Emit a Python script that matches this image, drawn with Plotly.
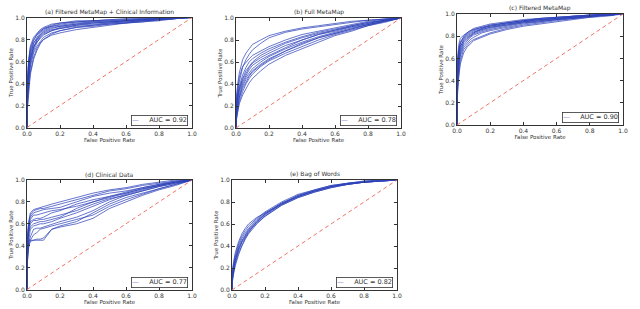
import plotly.graph_objects as go

# ---------------- data ----------------
FPR_GRID = [0, 0.01, 0.02, 0.04, 0.06, 0.08, 0.1, 0.15, 0.2, 0.3, 0.4, 0.5, 0.6, 0.7, 0.8, 0.9, 1.0]
DIAG = [0.0, 1.0]
TICKS = [0.0, 0.2, 0.4, 0.6, 0.8, 1.0]
TICK_LABELS = ["0.0", "0.2", "0.4", "0.6", "0.8", "1.0"]

TITLES = ["(a) Filtered MetaMap + Clinical Information", "(b) Full MetaMap",
          "(c) Filtered MetaMap", "(d) Clinical Data", "(e) Bag of Words"]
AUCS = ["0.92", "0.78", "0.90", "0.77", "0.82"]

TPR_A = [
    [0.25, 0.45, 0.60, 0.72, 0.80, 0.84, 0.87, 0.90, 0.92, 0.94, 0.95, 0.96, 0.97, 0.98, 0.99, 1.0, 1.0],
    [0.20, 0.40, 0.55, 0.68, 0.74, 0.78, 0.82, 0.86, 0.88, 0.91, 0.93, 0.95, 0.96, 0.97, 0.98, 0.99, 1.0],
    [0.30, 0.55, 0.66, 0.76, 0.82, 0.86, 0.89, 0.92, 0.94, 0.96, 0.97, 0.97, 0.98, 0.98, 0.99, 1.0, 1.0],
    [0.15, 0.35, 0.50, 0.64, 0.72, 0.77, 0.80, 0.84, 0.86, 0.89, 0.91, 0.93, 0.95, 0.96, 0.98, 0.99, 1.0],
    [0.35, 0.58, 0.70, 0.79, 0.84, 0.87, 0.90, 0.93, 0.95, 0.96, 0.97, 0.98, 0.98, 0.99, 0.99, 1.0, 1.0],
    [0.22, 0.48, 0.62, 0.74, 0.78, 0.81, 0.84, 0.88, 0.90, 0.93, 0.94, 0.95, 0.96, 0.97, 0.98, 0.99, 1.0],
    [0.40, 0.62, 0.72, 0.80, 0.85, 0.88, 0.90, 0.92, 0.93, 0.95, 0.96, 0.96, 0.97, 0.98, 0.99, 1.0, 1.0],
    [0.18, 0.42, 0.58, 0.70, 0.77, 0.82, 0.85, 0.88, 0.91, 0.93, 0.95, 0.96, 0.97, 0.98, 0.99, 1.0, 1.0],
    [0.28, 0.50, 0.64, 0.73, 0.79, 0.83, 0.86, 0.89, 0.90, 0.92, 0.93, 0.94, 0.95, 0.97, 0.98, 0.99, 1.0],
    [0.32, 0.60, 0.74, 0.82, 0.86, 0.89, 0.91, 0.94, 0.95, 0.97, 0.97, 0.98, 0.99, 0.99, 1.0, 1.0, 1.0],
    [0.12, 0.30, 0.48, 0.62, 0.70, 0.76, 0.80, 0.85, 0.88, 0.91, 0.92, 0.94, 0.95, 0.96, 0.97, 0.99, 1.0],
    [0.26, 0.52, 0.68, 0.77, 0.81, 0.85, 0.88, 0.91, 0.92, 0.94, 0.96, 0.97, 0.97, 0.98, 0.99, 1.0, 1.0],
]

TPR_B = [
    [0.10, 0.22, 0.30, 0.40, 0.46, 0.50, 0.54, 0.60, 0.65, 0.72, 0.78, 0.83, 0.87, 0.91, 0.94, 0.97, 1.0],
    [0.15, 0.28, 0.36, 0.45, 0.52, 0.56, 0.60, 0.66, 0.70, 0.77, 0.82, 0.86, 0.89, 0.92, 0.95, 0.98, 1.0],
    [0.05, 0.15, 0.24, 0.33, 0.40, 0.45, 0.49, 0.56, 0.61, 0.68, 0.74, 0.80, 0.85, 0.89, 0.93, 0.97, 1.0],
    [0.20, 0.32, 0.42, 0.55, 0.62, 0.67, 0.71, 0.77, 0.82, 0.87, 0.90, 0.92, 0.94, 0.96, 0.98, 0.99, 1.0],
    [0.12, 0.25, 0.33, 0.42, 0.48, 0.53, 0.57, 0.62, 0.66, 0.73, 0.80, 0.85, 0.88, 0.92, 0.95, 0.98, 1.0],
    [0.08, 0.18, 0.28, 0.38, 0.44, 0.48, 0.52, 0.58, 0.63, 0.70, 0.76, 0.82, 0.86, 0.90, 0.94, 0.97, 1.0],
    [0.18, 0.30, 0.38, 0.48, 0.55, 0.60, 0.63, 0.68, 0.72, 0.78, 0.83, 0.87, 0.90, 0.93, 0.96, 0.98, 1.0],
    [0.06, 0.14, 0.22, 0.30, 0.36, 0.41, 0.45, 0.52, 0.58, 0.66, 0.72, 0.78, 0.84, 0.88, 0.93, 0.96, 1.0],
    [0.14, 0.26, 0.35, 0.44, 0.50, 0.55, 0.59, 0.64, 0.68, 0.75, 0.80, 0.85, 0.89, 0.93, 0.96, 0.98, 1.0],
    [0.22, 0.36, 0.46, 0.56, 0.60, 0.63, 0.66, 0.70, 0.74, 0.80, 0.85, 0.88, 0.91, 0.94, 0.97, 0.99, 1.0],
    [0.09, 0.20, 0.27, 0.36, 0.42, 0.47, 0.51, 0.57, 0.62, 0.70, 0.77, 0.82, 0.86, 0.90, 0.94, 0.97, 1.0],
    [0.25, 0.40, 0.50, 0.62, 0.68, 0.72, 0.76, 0.80, 0.84, 0.88, 0.91, 0.93, 0.95, 0.97, 0.98, 0.99, 1.0],
]

TPR_C = [
    [0.40, 0.60, 0.70, 0.77, 0.80, 0.82, 0.84, 0.86, 0.88, 0.91, 0.93, 0.95, 0.96, 0.97, 0.98, 0.99, 1.0],
    [0.30, 0.52, 0.64, 0.72, 0.76, 0.79, 0.81, 0.84, 0.86, 0.89, 0.92, 0.94, 0.95, 0.97, 0.98, 0.99, 1.0],
    [0.50, 0.68, 0.75, 0.79, 0.82, 0.84, 0.86, 0.88, 0.89, 0.92, 0.94, 0.96, 0.97, 0.98, 0.99, 1.0, 1.0],
    [0.25, 0.45, 0.58, 0.68, 0.72, 0.75, 0.77, 0.80, 0.83, 0.87, 0.90, 0.92, 0.94, 0.96, 0.97, 0.99, 1.0],
    [0.45, 0.65, 0.74, 0.78, 0.81, 0.83, 0.85, 0.87, 0.90, 0.92, 0.94, 0.95, 0.96, 0.97, 0.98, 0.99, 1.0],
    [0.35, 0.58, 0.68, 0.75, 0.78, 0.80, 0.82, 0.85, 0.87, 0.90, 0.93, 0.94, 0.96, 0.97, 0.98, 0.99, 1.0],
    [0.55, 0.72, 0.78, 0.81, 0.83, 0.85, 0.87, 0.89, 0.91, 0.93, 0.95, 0.96, 0.97, 0.98, 0.99, 1.0, 1.0],
    [0.20, 0.42, 0.55, 0.65, 0.70, 0.73, 0.76, 0.79, 0.82, 0.86, 0.89, 0.91, 0.93, 0.95, 0.97, 0.98, 1.0],
    [0.38, 0.56, 0.66, 0.74, 0.77, 0.80, 0.83, 0.86, 0.88, 0.90, 0.92, 0.93, 0.95, 0.96, 0.98, 0.99, 1.0],
    [0.48, 0.66, 0.73, 0.80, 0.83, 0.85, 0.86, 0.88, 0.90, 0.92, 0.94, 0.96, 0.97, 0.98, 0.99, 0.99, 1.0],
    [0.28, 0.50, 0.62, 0.70, 0.74, 0.77, 0.79, 0.83, 0.85, 0.88, 0.91, 0.93, 0.95, 0.96, 0.98, 0.99, 1.0],
    [0.42, 0.62, 0.71, 0.76, 0.79, 0.81, 0.83, 0.87, 0.89, 0.91, 0.93, 0.95, 0.96, 0.98, 0.99, 1.0, 1.0],
]

TPR_D = [
    [0.30, 0.45, 0.45, 0.45, 0.45, 0.45, 0.45, 0.55, 0.58, 0.62, 0.70, 0.78, 0.84, 0.88, 0.92, 0.96, 1.0],
    [0.35, 0.55, 0.62, 0.64, 0.65, 0.65, 0.66, 0.70, 0.72, 0.78, 0.82, 0.85, 0.88, 0.92, 0.95, 0.98, 1.0],
    [0.40, 0.58, 0.66, 0.70, 0.71, 0.72, 0.73, 0.74, 0.75, 0.80, 0.85, 0.88, 0.90, 0.93, 0.96, 0.98, 1.0],
    [0.25, 0.42, 0.48, 0.55, 0.56, 0.56, 0.57, 0.60, 0.62, 0.66, 0.72, 0.80, 0.86, 0.90, 0.94, 0.97, 1.0],
    [0.45, 0.62, 0.68, 0.72, 0.73, 0.74, 0.74, 0.76, 0.78, 0.82, 0.86, 0.90, 0.92, 0.95, 0.97, 0.99, 1.0],
    [0.20, 0.38, 0.45, 0.50, 0.52, 0.55, 0.56, 0.58, 0.60, 0.64, 0.68, 0.76, 0.82, 0.87, 0.92, 0.96, 1.0],
    [0.32, 0.50, 0.60, 0.63, 0.63, 0.64, 0.64, 0.66, 0.68, 0.72, 0.78, 0.83, 0.86, 0.90, 0.94, 0.97, 1.0],
    [0.38, 0.55, 0.64, 0.68, 0.68, 0.69, 0.70, 0.72, 0.73, 0.76, 0.80, 0.85, 0.89, 0.93, 0.96, 0.99, 1.0],
    [0.28, 0.44, 0.55, 0.58, 0.59, 0.60, 0.60, 0.62, 0.65, 0.70, 0.76, 0.82, 0.87, 0.91, 0.95, 0.98, 1.0],
    [0.42, 0.60, 0.70, 0.73, 0.74, 0.75, 0.76, 0.78, 0.80, 0.84, 0.88, 0.91, 0.93, 0.96, 0.98, 1.0, 1.0],
    [0.22, 0.40, 0.44, 0.45, 0.46, 0.46, 0.47, 0.55, 0.57, 0.60, 0.65, 0.74, 0.80, 0.86, 0.91, 0.95, 1.0],
    [0.34, 0.52, 0.57, 0.60, 0.61, 0.62, 0.62, 0.64, 0.66, 0.74, 0.80, 0.84, 0.88, 0.92, 0.95, 0.98, 1.0],
]

TPR_E = [
    [0.08, 0.18, 0.26, 0.36, 0.43, 0.48, 0.53, 0.61, 0.67, 0.77, 0.84, 0.89, 0.93, 0.96, 0.98, 0.99, 1.0],
    [0.12, 0.22, 0.30, 0.40, 0.47, 0.52, 0.56, 0.64, 0.70, 0.79, 0.85, 0.90, 0.94, 0.97, 0.98, 0.99, 1.0],
    [0.05, 0.15, 0.22, 0.32, 0.40, 0.46, 0.51, 0.60, 0.67, 0.77, 0.84, 0.89, 0.93, 0.96, 0.98, 0.99, 1.0],
    [0.15, 0.26, 0.34, 0.44, 0.51, 0.56, 0.60, 0.66, 0.70, 0.78, 0.85, 0.90, 0.94, 0.96, 0.98, 1.0, 1.0],
    [0.10, 0.20, 0.28, 0.38, 0.45, 0.50, 0.55, 0.63, 0.69, 0.78, 0.86, 0.91, 0.95, 0.97, 0.99, 1.0, 1.0],
    [0.07, 0.16, 0.24, 0.34, 0.41, 0.47, 0.52, 0.62, 0.69, 0.79, 0.86, 0.90, 0.94, 0.97, 0.98, 0.99, 1.0],
    [0.13, 0.24, 0.32, 0.42, 0.49, 0.54, 0.58, 0.65, 0.71, 0.80, 0.87, 0.91, 0.95, 0.97, 0.99, 1.0, 1.0],
    [0.09, 0.19, 0.27, 0.37, 0.44, 0.49, 0.54, 0.62, 0.68, 0.78, 0.85, 0.90, 0.94, 0.96, 0.98, 0.99, 1.0],
]

PANELS = [TPR_A, TPR_B, TPR_C, TPR_D, TPR_E]

# ---------------- layout / style ----------------
W, H = 640, 309
# pixel boxes (left, right, top, bottom) of each axes frame
BOXES = [(27, 192, 17.5, 127.5), (236, 401, 18, 128), (457, 623, 14, 125),
         (27, 192, 180, 289.5), (232, 397, 180, 290)]

LINE_COL = "rgba(45,65,185,0.72)"
DIAG_COL = "rgba(238,110,95,0.95)"
FONT = "DejaVu Sans"

fig = go.Figure()
annotations = []
layout_axes = {}

for i, (curves, box) in enumerate(zip(PANELS, BOXES)):
    k = "" if i == 0 else str(i + 1)
    xa, ya = "x" + k, "y" + k
    for c in curves:
        fig.add_trace(go.Scatter(
            x=[0] + FPR_GRID, y=[0] + c, mode="lines",
            line=dict(color=LINE_COL, width=1),
            xaxis=xa, yaxis=ya, showlegend=False, hoverinfo="skip",
            name="AUC = " + AUCS[i]))
    fig.add_trace(go.Scatter(
        x=DIAG, y=DIAG, mode="lines",
        line=dict(color=DIAG_COL, width=1, dash="4px,3px"),
        xaxis=xa, yaxis=ya, showlegend=False, hoverinfo="skip"))

    l, r, t, b = box
    axcommon = dict(range=[0, 1], tickvals=TICKS, ticktext=TICK_LABELS,
                    showgrid=False, zeroline=False, showline=True, mirror="ticks",
                    linecolor="#333", linewidth=1, ticks="inside", ticklen=3,
                    tickcolor="#333", automargin=False,
                    tickfont=dict(family=FONT, size=6, color="#333"))
    layout_axes["xaxis" + k] = dict(axcommon, domain=[l / W, r / W], anchor=ya,
                                    title=dict(text="False Positive Rate",
                                               font=dict(family=FONT, size=5.5, color="#333"),
                                               standoff=1))
    layout_axes["yaxis" + k] = dict(axcommon, domain=[1 - b / H, 1 - t / H], anchor=xa,
                                    title=dict(text="True Positive Rate",
                                               font=dict(family=FONT, size=5.5, color="#333"),
                                               standoff=1))
    annotations.append(dict(
        text=TITLES[i], xref=xa + " domain", yref=ya + " domain", x=0.5, y=1,
        xanchor="center", yanchor="bottom", yshift=0, showarrow=False,
        font=dict(family=FONT, size=6, color="#333")))
    annotations.append(dict(
        text="<span style='color:" + LINE_COL + "'>—</span>     AUC = " + AUCS[i],
        xref=xa + " domain", yref=ya + " domain", x=1, y=0,
        xanchor="right", yanchor="bottom", xshift=-4, yshift=2, showarrow=False,
        bordercolor="#333", borderwidth=0.8, borderpad=0.5, bgcolor="white",
        font=dict(family=FONT, size=6.5, color="#333")))

fig.update_layout(
    width=W, height=H, margin=dict(l=0, r=0, t=0, b=0),
    paper_bgcolor="white", plot_bgcolor="white",
    annotations=annotations, showlegend=False,
    **layout_axes)

fig.write_html("out.html", config={"displayModeBar": False},
               post_script="document.body.style.margin='0';document.body.style.padding='0';")
